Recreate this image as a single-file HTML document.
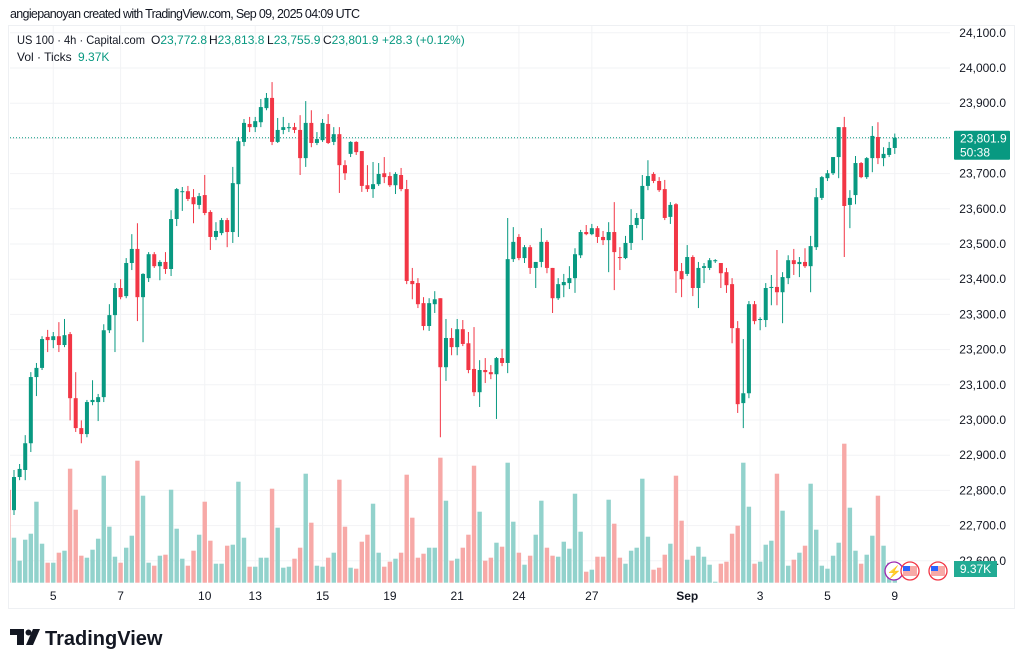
<!DOCTYPE html>
<html><head><meta charset="utf-8"><style>
html,body{margin:0;padding:0;background:#fff;}
svg{display:block;font-family:"Liberation Sans",sans-serif;}
</style></head><body>
<svg id="chart" width="1024" height="665" viewBox="0 0 1024 665" xmlns="http://www.w3.org/2000/svg">
  <defs><clipPath id="plotClip"><rect x="10" y="26" width="940" height="557"/></clipPath></defs>
  <rect x="0" y="0" width="1024" height="665" fill="#fff"/>
  <text x="10" y="18" font-size="12.5" fill="#131722" textLength="350">angiepanoyan created with TradingView.com, Sep 09, 2025 04:09 UTC</text>
  <rect x="8.5" y="25.5" width="1006" height="583" fill="none" stroke="#eef0f3"/>
  <g id="grid"></g>
  <g id="volumes" clip-path="url(#plotClip)"></g>
  <g id="candles" clip-path="url(#plotClip)"></g>
  <g id="axis"></g>
  <g id="xaxis"></g>
  <g font-size="12">
    <text x="17" y="44" fill="#131722" textLength="128" lengthAdjust="spacingAndGlyphs">US 100 · 4h · Capital.com</text>
    <text x="151" y="44" fill="#131722">O<tspan fill="#089981">23,772.8</tspan></text>
    <text x="209" y="44" fill="#131722">H<tspan fill="#089981">23,813.8</tspan></text>
    <text x="267" y="44" fill="#131722">L<tspan fill="#089981">23,755.9</tspan></text>
    <text x="323" y="44" fill="#131722">C<tspan fill="#089981">23,801.9</tspan></text>
    <text x="382" y="44" fill="#089981">+28.3 (+0.12%)</text>
    <text x="17" y="61" fill="#131722">Vol · Ticks <tspan fill="#089981" dx="3">9.37K</tspan></text>
  </g>
  <g>
    <circle cx="894" cy="571" r="9" fill="#fff" stroke="#9c27b0" stroke-width="1.3"/>
    <text x="894" y="576" font-size="12" fill="#9c27b0" text-anchor="middle">⚡</text>
    <circle cx="910" cy="571" r="9" fill="#fff" stroke="#f23645" stroke-width="1.3"/>
    <rect x="903" y="566" width="14" height="10" fill="#f7a9a7"/><rect x="903" y="566" width="7" height="5" fill="#2962ff"/>
    <circle cx="938" cy="571" r="9" fill="#fff" stroke="#f23645" stroke-width="1.3"/>
    <rect x="931" y="566" width="14" height="10" fill="#f7a9a7"/><rect x="931" y="566" width="7" height="5" fill="#2962ff"/>
  </g>
  <g>
    <path d="M10 629 h14 v16 h-7 v-10 h-7 z" fill="#131722"/>
    <circle cx="28.5" cy="632.5" r="3" fill="#131722"/>
    <path d="M33 629 h7 l-7 16 h-7 z" fill="#131722"/>
    <text x="45" y="645" font-size="20" font-weight="bold" fill="#131722">TradingView</text>
  </g>
</svg>
<script>
const opens=[22801,22744,22838,22858,22934,23122,23148,23236,23227,23238,23213,23244,23062,22977,22960,23051,23051,23065,23255,23298,23375,23352,23446,23486,23349,23403,23471,23437,23449,23429,23571,23648,23650,23633,23611,23639,23591,23520,23531,23568,23534,23670,23790,23841,23832,23846,23886,23915,23790,23824,23829,23832,23824,23744,23844,23787,23795,23841,23790,23812,23724,23756,23790,23764,23667,23656,23670,23701,23693,23667,23696,23656,23395,23389,23332,23267,23329,23346,23150,23233,23207,23258,23218,23145,23079,23142,23136,23130,23176,23162,23457,23520,23460,23491,23432,23449,23506,23432,23346,23383,23389,23403,23468,23534,23528,23545,23520,23511,23534,23463,23460,23503,23554,23571,23665,23699,23679,23656,23577,23613,23423,23415,23463,23375,23432,23432,23451,23446,23420,23386,23261,23048,23076,23329,23284,23284,23375,23378,23363,23403,23454,23443,23449,23437,23491,23631,23687,23701,23747,23832,23611,23639,23730,23690,23744,23804,23744,23753,23772.8];
const highs=[22815,22858,22875,22957,23136,23162,23238,23256,23250,23278,23287,23250,23136,22999,23057,23113,23074,23272,23329,23389,23400,23460,23528,23559,23417,23477,23477,23454,23477,23596,23659,23662,23665,23656,23645,23696,23596,23562,23574,23574,23719,23804,23855,23861,23861,23912,23929,23960,23858,23861,23844,23844,23866,23906,23880,23818,23855,23869,23832,23832,23738,23792,23792,23764,23724,23733,23730,23747,23704,23704,23716,23682,23432,23403,23349,23346,23366,23346,23287,23261,23287,23284,23250,23264,23170,23176,23156,23179,23202,23574,23548,23528,23497,23497,23449,23545,23511,23432,23403,23415,23437,23488,23540,23554,23557,23551,23537,23562,23619,23491,23523,23599,23588,23696,23738,23704,23690,23682,23619,23616,23446,23497,23468,23449,23446,23460,23457,23446,23432,23403,23281,23230,23338,23338,23292,23389,23412,23483,23420,23468,23486,23463,23488,23523,23659,23693,23710,23747,23832,23861,23653,23750,23733,23747,23835,23846,23775,23790,23813.8];
const lows=[22738,22730,22829,22829,22909,23068,23142,23193,23204,23193,23207,22999,22966,22934,22951,23042,22997,23051,23247,23193,23343,23346,23426,23281,23221,23392,23432,23397,23415,23409,23551,23594,23622,23559,23599,23582,23483,23511,23525,23491,23503,23520,23778,23818,23818,23832,23880,23781,23787,23812,23818,23815,23696,23719,23775,23781,23790,23784,23781,23645,23682,23747,23753,23648,23648,23631,23665,23673,23662,23642,23650,23386,23343,23318,23255,23253,23304,22951,23111,23184,23184,23210,23133,23068,23037,23105,23116,23003,23153,23133,23449,23454,23446,23415,23375,23434,23417,23304,23341,23349,23372,23361,23460,23525,23525,23503,23497,23420,23369,23426,23457,23483,23545,23511,23653,23673,23648,23568,23557,23361,23349,23409,23352,23318,23389,23426,23446,23375,23361,23218,23020,22977,23062,23272,23255,23264,23326,23326,23275,23386,23412,23406,23432,23363,23483,23625,23679,23696,23687,23463,23545,23613,23687,23685,23704,23727,23721,23747,23755.9];
const closes=[22744,22838,22861,22934,23122,23148,23230,23227,23238,23213,23241,23062,22977,22960,23051,23057,23065,23255,23298,23375,23349,23446,23486,23349,23415,23471,23437,23449,23429,23571,23656,23650,23628,23613,23636,23588,23520,23537,23568,23534,23673,23792,23844,23832,23849,23889,23915,23790,23824,23832,23832,23824,23744,23844,23787,23798,23844,23787,23812,23724,23701,23790,23761,23665,23656,23670,23699,23690,23667,23699,23656,23395,23386,23329,23267,23332,23343,23150,23233,23207,23258,23216,23142,23079,23142,23136,23130,23176,23162,23457,23506,23460,23491,23432,23449,23506,23432,23346,23386,23392,23403,23471,23534,23528,23545,23520,23511,23534,23477,23460,23503,23554,23574,23665,23693,23679,23653,23574,23611,23423,23400,23463,23375,23432,23437,23454,23454,23417,23383,23261,23045,23076,23329,23281,23287,23375,23378,23363,23406,23454,23443,23449,23437,23494,23633,23690,23701,23747,23832,23608,23631,23730,23690,23744,23807,23744,23756,23772.8,23801.9];
const volumes=[93,45,22,43,49,81,39,20,20,30,32,114,73,27,25,33,44,107,56,26,20,35,47,122,87,20,17,27,28,93,54,24,17,32,48,81,42,19,19,37,38,101,45,16,16,25,25,94,55,15,16,24,35,109,60,17,16,25,30,103,56,15,14,41,48,79,30,16,21,24,30,108,65,25,29,35,35,125,82,22,24,35,48,117,71,22,25,40,36,120,61,30,18,27,48,82,35,27,26,41,34,89,51,11,13,26,26,83,59,25,19,32,35,104,46,13,15,28,39,107,62,23,27,36,26,18,1,19,21,49,57,120,76,19,21,38,42,109,72,17,23,30,37,99,53,17,14,27,40,139,75,32,19,28,47,87,37,20,6];
const priceTicks=[24100,24000,23900,23800,23700,23600,23500,23400,23300,23200,23100,23000,22900,22800,22700,22600];
const dateLabels=["5","7","10","13","15","19","21","24","27","Sep","3","5","9"];
const dateIndex=[8,20,35,44,56,68,80,91,104,121,134,146,158];
const lastPrice=23801.9;

const NS="http://www.w3.org/2000/svg";
function el(tag,attrs,parent){const e=document.createElementNS(NS,tag);for(const k in attrs)e.setAttribute(k,attrs[k]);parent.appendChild(e);return e;}
function xPos(i){return 8.39+i*5.61;}
function yPrice(p){return 32.8+(24100-p)*0.352;}
const volBase=582.7, volScale=1.0;
function yVol(v){return volBase-v*volScale;}
const GREEN="#089981",RED="#f23645",VG="#92d2cc",VR="#f7a9a7";

const grid=document.getElementById('grid');
const axis=document.getElementById('axis');
priceTicks.forEach(p=>{
  const y=yPrice(p);
  const g=el('line',{x1:10,x2:950,y1:y,y2:y,stroke:'#f2f3f5','stroke-width':1},grid);
  
  
  const t=el('text',{x:1006,y:y+4,'font-size':12,fill:'#131722','text-anchor':'end'},axis);
  
  
  t.textContent=p.toLocaleString('en-US',{minimumFractionDigits:1});
});
const xaxis=document.getElementById('xaxis');
dateLabels.forEach((d,k)=>{
  const x=xPos(dateIndex[k]);
  const g=el('line',{x1:x,x2:x,y1:26,y2:583,stroke:'#f2f3f5','stroke-width':1},grid);
  
  
  const t=el('text',{x:x,y:600,'font-size':12,fill:'#131722','text-anchor':'middle','font-weight':d==='Sep'?'bold':'normal'},xaxis);
  
  
  t.textContent=d;
});

const vg=document.getElementById('volumes');
const cg=document.getElementById('candles');
closes.forEach((c,i)=>{
  const o=opens[i],up=c>=o,x=xPos(i);
  const vb=el('rect',{x:x-2.2,y:yVol(volumes[i]),width:4.4,height:volumes[i]*volScale,fill:up?VG:VR},vg);
  
  
  const col=up?GREEN:RED;
  const w=el('line',{x1:x,x2:x,y1:yPrice(highs[i]),y2:yPrice(lows[i]),stroke:col,'stroke-width':1},cg);
  
  
  const top=yPrice(Math.max(o,c)),bot=yPrice(Math.min(o,c));
  const b=el('rect',{x:x-2,y:top,width:4,height:Math.max(1,bot-top),fill:col},cg);
  
  
});

const ly=yPrice(lastPrice);
const dl=el('line',{x1:10,x2:950,y1:ly,y2:ly,stroke:'#089981','stroke-width':1,'stroke-dasharray':'1 2'},grid);


const pb=el('rect',{x:954,y:ly-7,width:56,height:29,fill:'#089981',rx:1},axis);


const pt=el('text',{x:960,y:ly+5,'font-size':12,fill:'#fff'},axis);


pt.textContent=lastPrice.toLocaleString('en-US',{minimumFractionDigits:1});
const ct=el('text',{x:960,y:ly+19,'font-size':12,fill:'#fff'},axis);


ct.textContent='50:38';
const vbx=el('rect',{x:954,y:561,width:43,height:16,fill:'#22ab94'},axis);


const vt=el('text',{x:975.5,y:573,'font-size':12,fill:'#fff','text-anchor':'middle'},axis);


vt.textContent='9.37K';
</script>
</body></html>
